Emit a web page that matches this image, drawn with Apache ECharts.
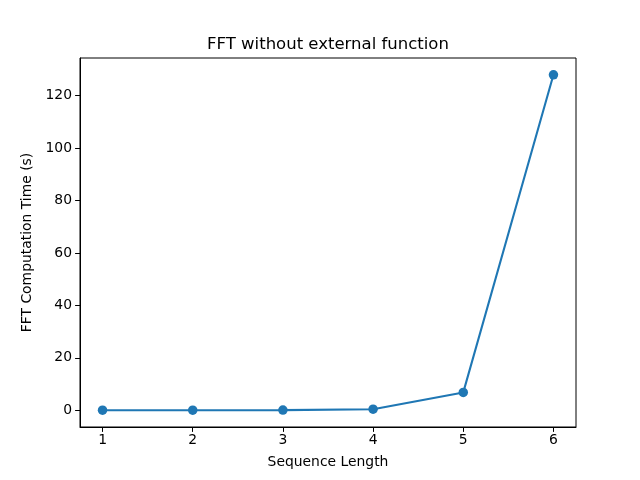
<!DOCTYPE html>
<html><head><meta charset="utf-8">
<script src="https://cdn.jsdelivr.net/npm/echarts@6/dist/echarts.min.js"></script>
<style>html,body{margin:0;padding:0;background:#fff}#c{width:640px;height:480px}</style>
</head><body><div id="c"></div>
<script>
const sequenceLength = [1, 2, 3, 4, 5, 6];
const fftTime = [0.001, 0.005, 0.05, 0.4, 6.8, 128];
const xTicks = [1, 2, 3, 4, 5, 6];
const yTicks = [0, 20, 40, 60, 80, 100, 120];

const font = 'DejaVu Sans';
const chart = echarts.init(document.getElementById('c'), null, {renderer: 'canvas'});
chart.setOption({
  animation: false,
  backgroundColor: '#fff',
  title: {
    text: 'FFT without external function',
    left: 323, top: 31, textAlign: 'center',
    textStyle: {fontFamily: font, fontSize: 16.5, fontWeight: 'normal', color: '#000'}
  },
  grid: {left: 80, right: 64, top: 58, bottom: 53, show: true, borderColor: '#000', borderWidth: 1, backgroundColor: 'transparent'},
  xAxis: {
    type: 'value', min: 0.75, max: 6.25,
    name: 'Sequence Length', nameLocation: 'middle', nameGap: 28,
    nameTextStyle: {fontFamily: font, fontSize: 13.9, color: '#000'},
    axisLine: {show: true, onZero: false, lineStyle: {color: '#000', width: 1}},
    axisTick: {show: true, length: 4.9, lineStyle: {color: '#000', width: 1}, customValues: xTicks},
    axisLabel: {fontFamily: font, fontSize: 13.9, color: '#000', margin: 6, customValues: xTicks, formatter: v => String(v)},
    splitLine: {show: false}
  },
  yAxis: {
    type: 'value', min: -6.4, max: 134.4,
    name: 'FFT Computation Time (s)', nameLocation: 'middle', nameGap: 37,
    nameTextStyle: {fontFamily: font, fontSize: 13.9, color: '#000'},
    axisLine: {show: true, onZero: false, lineStyle: {color: '#000', width: 1}},
    axisTick: {show: true, length: 4.9, lineStyle: {color: '#000', width: 1}, customValues: yTicks},
    axisLabel: {fontFamily: font, fontSize: 13.9, color: '#000', margin: 8, customValues: yTicks, formatter: v => String(v)},
    splitLine: {show: false}
  },
  series: [{
    type: 'line',
    data: sequenceLength.map((x, i) => [x, fftTime[i]]),
    symbol: 'circle', symbolSize: 9.5,
    lineStyle: {color: '#1f77b4', width: 2.08},
    itemStyle: {color: '#1f77b4'}
  }]
});
</script></body></html>
